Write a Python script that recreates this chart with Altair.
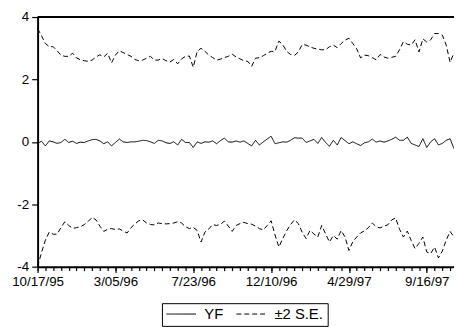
import altair as alt
import pandas as pd

# Weekly forecast sample, 10/17/95 onwards
start_date = "1995-10-17"
n_weeks = 108

yf = [
    -0.05, 0.02, -0.13, 0.03, 0.00, -0.05, -0.02, 0.08, -0.02, 0.02,
    -0.05, -0.01, -0.02, 0.03, 0.07, 0.08, 0.03, -0.06, 0.00, -0.13,
    -0.02, 0.09, 0.00, -0.02, 0.00, 0.00, 0.02, 0.05, 0.04, 0.00,
    -0.05, 0.05, 0.03, -0.03, -0.05, 0.00, -0.10, 0.08, -0.02, -0.02,
    -0.18, 0.00, -0.05, 0.00, -0.01, 0.03, -0.06, 0.04, 0.12, 0.00,
    -0.01, 0.03, -0.01, 0.03, -0.05, -0.13, 0.05, -0.10, 0.00, 0.09,
    0.18, -0.06, -0.03, 0.00, -0.01, 0.05, 0.13, 0.12, 0.12, -0.02,
    0.03, 0.08, -0.05, 0.14, -0.02, -0.14, 0.05, -0.10, 0.14, 0.04,
    -0.06, 0.00, -0.06, -0.12, -0.03, 0.00, 0.09, -0.01, 0.03, -0.01,
    0.03, 0.08, 0.15, 0.05, 0.05, 0.15, -0.05, -0.10, -0.15, 0.10,
    -0.18, 0.00, 0.10, -0.10, -0.05, 0.05, 0.10, -0.22,
]

upper = [
    3.63, 3.40, 3.15, 3.05, 3.05, 2.92, 2.78, 2.74, 2.74, 2.84,
    2.69, 2.63, 2.60, 2.58, 2.62, 2.72, 2.79, 2.72, 2.84, 2.53,
    2.78, 2.92, 2.86, 2.80, 2.74, 2.64, 2.60, 2.62, 2.68, 2.74,
    2.62, 2.62, 2.67, 2.60, 2.56, 2.64, 2.50, 2.66, 2.74, 2.75,
    2.39, 2.90, 3.00, 2.90, 2.78, 2.70, 2.62, 2.65, 2.70, 2.74,
    2.81, 2.72, 2.66, 2.60, 2.58, 2.42, 2.68, 2.70, 2.76, 2.84,
    2.90, 2.90, 3.23, 3.11, 2.90, 2.80, 2.77, 2.88, 3.12, 3.10,
    3.04, 3.00, 2.97, 2.95, 2.95, 3.05, 3.10, 3.02, 3.15, 3.26,
    3.32, 3.15, 2.98, 2.69, 2.78, 2.76, 2.70, 2.63, 2.80, 2.72,
    2.68, 2.71, 2.74, 2.95, 3.21, 3.13, 3.10, 3.27, 2.88, 3.30,
    3.20, 3.27, 3.47, 3.47, 3.42, 3.10, 2.55, 2.85,
]

lower = [
    -4.00, -3.55, -3.15, -2.89, -2.96, -2.96, -2.75, -2.56, -2.68, -2.77,
    -2.75, -2.72, -2.65, -2.55, -2.42, -2.50, -2.70, -2.87, -2.80, -2.78,
    -2.81, -2.79, -2.86, -2.92, -2.75, -2.63, -2.53, -2.50, -2.60, -2.65,
    -2.66, -2.60, -2.62, -2.63, -2.62, -2.60, -2.56, -2.60, -2.72, -2.78,
    -2.74, -2.84, -3.21, -2.89, -2.79, -2.65, -2.68, -2.64, -2.54, -2.70,
    -2.87, -2.68, -2.62, -2.58, -2.62, -2.64, -2.70, -2.78, -2.82, -2.68,
    -2.53, -2.98, -3.37, -3.10, -2.85, -2.65, -2.50, -2.62, -2.90, -3.10,
    -2.84, -2.95, -3.05, -2.68, -2.95, -3.21, -3.00, -3.12, -2.84, -3.05,
    -3.48, -3.20, -3.05, -2.92, -2.85, -2.75, -2.60, -2.72, -2.76, -2.70,
    -2.66, -2.50, -2.44, -2.80, -3.05, -2.86, -3.16, -3.42, -3.25, -3.05,
    -3.53, -3.58, -3.37, -3.72, -3.50, -3.15, -2.87, -3.05,
]

series_names = ["YF", "±2 S.E."]
y_ticks = [-4, -2, 0, 2, 4]

dates = pd.date_range(start_date, periods=n_weeks, freq="7D")
date_str = [d.strftime("%Y-%m-%dT00:00:00") for d in dates]

rows = []
for band, name, vals in [("YF", "YF", yf), ("upper", "±2 S.E.", upper), ("lower", "±2 S.E.", lower)]:
    for d, v in zip(date_str, vals):
        rows.append({"date": d, "value": v, "series": name, "band": band})
df = pd.DataFrame(rows)

def dt(d):
    return alt.DateTime(year=d.year, month=d.month, date=d.day)

major = [dt(d) for d in dates[::20]]
minor = [dt(d) for d in dates[::2]]

FONT = "Liberation Sans"

xscale = alt.Scale(nice=False)
yscale = alt.Scale(domain=[-4, 4], nice=False)

lines = alt.Chart(df).mark_line(strokeWidth=1, color="black").encode(
    x=alt.X("date:T", scale=xscale, title=None,
            axis=alt.Axis(values=major, format="%-m/%d/%y", tickSize=6, labelPadding=2,
                          grid=False, domainWidth=2, tickWidth=1.2, orient="bottom",
                          labelFontSize=13.5, labelFont=FONT, labelColor="black",
                          domainColor="black", tickColor="black", labelOverlap=False,
                          labelFlush=False)),
    y=alt.Y("value:Q", scale=yscale, title=None,
            axis=alt.Axis(values=y_ticks, tickSize=6, labelPadding=3, grid=False,
                          domainWidth=2, tickWidth=1.2, labelFontSize=13.5, labelFont=FONT,
                          labelColor="black", domainColor="black", tickColor="black",
                          labelFlush=False,
                          labelExpr="datum.value < 0 ? '-' + abs(datum.value) : '' + datum.value")),
    strokeDash=alt.StrokeDash("series:N",
        scale=alt.Scale(domain=series_names, range=[[1, 0], [5, 3]]),
        legend=alt.Legend(title=None, orient="none", legendX=126, legendY=290,
                          direction="horizontal", strokeColor="black", padding=4,
                          symbolType="stroke", symbolSize=900, symbolStrokeWidth=1,
                          symbolStrokeColor="black", clipHeight=14,
                          labelFont=FONT, labelFontSize=15,
                          labelColor="black", labelOffset=8, columnPadding=12)),
    detail="band:N",
)

minor_ticks = alt.Chart(df).mark_point(opacity=0).encode(
    x=alt.X("date:T", scale=xscale, title=None,
            axis=alt.Axis(values=minor, labels=False, tickSize=4, domain=False, grid=False,
                          tickColor="black", tickWidth=1.2, orient="bottom")),
    y=alt.value(0),
)

top = alt.Chart(pd.DataFrame({"value": [4]})).mark_rule(color="black", strokeWidth=2).encode(
    y=alt.Y("value:Q", scale=yscale)
)

chart = alt.layer(lines, minor_ticks, top).resolve_axis(x="independent").properties(
    width=422, height=253,
    autosize=alt.AutoSizeParams(type="none"),
    padding={"left": 30, "top": 7, "right": 0, "bottom": 60},
).configure_view(stroke=None)

chart.save("out.html", embed_options={"renderer": "svg", "actions": False})
